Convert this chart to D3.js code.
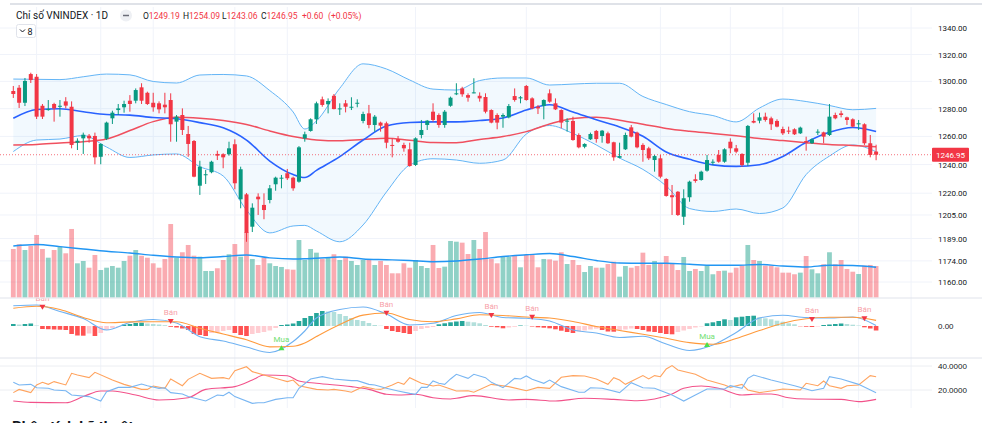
<!DOCTYPE html>
<html><head><meta charset="utf-8">
<script src="https://cdn.jsdelivr.net/npm/d3@7"></script>
<style>
body{margin:0;background:#fff;overflow:hidden}
svg{display:block;font-family:Roboto,"Noto Sans",sans-serif}
</style></head>
<body><svg id="c" width="982" height="423"></svg>
<script>
// ---------- DATA ----------
const ohlc = [ // [open, high, low, close]
[1292.9,1296.6,1287.8,1290.7],[1295.3,1297.3,1280.5,1284.3],[1284.3,1302.5,1281.9,1300.3],[1305.4,1306.4,1298.8,1301.0],[1303.4,1305.4,1272.5,1274.2],
[1282.1,1283.4,1272.5,1274.2],[1279.0,1286.3,1278.5,1279.7],[1283.4,1284.3,1270.6,1280.2],[1281.4,1286.3,1274.2,1282.1],[1285.3,1288.4,1280.2,1282.2],
[1281.4,1285.3,1251.5,1253.9],[1255.5,1258.6,1250.3,1256.9],[1258.6,1262.7,1247.5,1261.2],[1260.5,1261.7,1255.5,1258.6],[1260.3,1262.7,1240.2,1245.1],
[1245.5,1255.1,1240.2,1254.6],[1258.3,1270.6,1257.4,1269.9],[1273.0,1278.5,1268.9,1277.1],[1279.0,1283.4,1275.4,1280.2],[1281.0,1285.8,1277.1,1283.4],
[1285.8,1289.9,1277.8,1283.4],[1285.8,1294.8,1283.9,1293.6],[1295.6,1298.6,1283.4,1285.8],[1291.6,1292.4,1282.7,1283.4],[1284.3,1291.6,1277.8,1281.0],
[1283.9,1285.3,1276.6,1279.5],[1282.9,1291.6,1276.6,1281.0],[1286.3,1291.2,1256.2,1268.7],[1270.6,1275.4,1256.2,1274.2],[1275.4,1280.2,1261.0,1264.6],
[1261.7,1267.5,1245.5,1254.6],[1256.7,1257.4,1231.1,1231.5],[1225.2,1242.7,1218.8,1238.5],[1232.5,1236.2,1226.4,1233.2],[1234.6,1242.7,1233.9,1242.0],
[1247.5,1249.8,1243.2,1246.3],[1247.3,1248.0,1237.4,1245.1],[1247.3,1256.2,1246.3,1251.5],[1254.4,1257.9,1222.7,1226.9],[1215.8,1238.5,1209.6,1236.7],
[1219.2,1220.1,1186.8,1192.8],[1197.0,1213.0,1193.4,1210.0],[1217.6,1219.9,1205.0,1215.8],[1211.9,1219.9,1202.1,1208.4],[1215.3,1225.7,1213.0,1223.4],
[1226.2,1231.5,1221.7,1230.8],[1230.1,1232.7,1223.4,1230.8],[1233.9,1236.9,1229.2,1230.4],[1230.8,1231.5,1221.7,1223.4],[1228.0,1253.1,1227.3,1252.2],
[1258.6,1263.4,1256.2,1261.5],[1263.9,1273.0,1263.4,1272.3],[1272.3,1285.1,1268.9,1283.9],[1286.8,1288.8,1281.4,1282.7],[1283.2,1287.5,1276.6,1285.6],
[1289.4,1290.7,1279.5,1279.7],[1279.5,1283.9,1275.4,1280.2],[1283.9,1286.3,1277.3,1281.4],[1281.0,1288.3,1279.0,1281.4],[1283.9,1286.8,1281.0,1284.3],
[1271.1,1277.8,1269.4,1276.1],[1276.6,1282.7,1265.8,1268.2],[1268.2,1275.4,1263.4,1274.2],[1269.9,1270.6,1263.4,1267.7],[1269.4,1270.6,1251.5,1255.5],
[1253.9,1258.6,1245.1,1253.2],[1258.1,1260.3,1255.5,1256.2],[1253.9,1255.5,1249.1,1251.5],[1250.8,1255.5,1238.5,1239.0],[1239.7,1259.3,1239.0,1258.6],
[1261.0,1271.8,1258.6,1264.6],[1268.2,1271.8,1264.6,1271.3],[1277.8,1283.9,1270.6,1271.8],[1275.4,1276.6,1266.2,1268.2],[1268.2,1279.0,1266.2,1277.8],
[1282.1,1288.8,1281.4,1288.0],[1290.5,1298.6,1289.9,1291.2],[1294.8,1296.0,1288.7,1290.5],[1289.9,1291.2,1285.1,1288.0],[1291.2,1302.3,1291.2,1291.9],
[1289.4,1291.9,1285.1,1287.5],[1288.5,1291.2,1276.6,1277.8],[1279.0,1279.5,1269.4,1269.9],[1275.4,1276.6,1265.1,1269.9],[1274.2,1276.6,1266.2,1275.4],
[1273.7,1283.4,1273.0,1281.9],[1289.2,1294.8,1285.1,1286.3],[1287.5,1289.2,1283.9,1288.3],[1296.6,1297.3,1285.8,1286.3],[1287.5,1288.3,1279.5,1280.2],
[1281.4,1282.7,1276.1,1280.2],[1281.9,1286.8,1272.3,1286.3],[1291.2,1294.1,1284.3,1285.1],[1283.9,1287.5,1279.0,1279.5],[1279.0,1279.5,1265.8,1269.9],
[1270.6,1273.0,1263.4,1271.3],[1271.1,1274.2,1256.9,1257.4],[1261.0,1262.2,1251.5,1252.2],[1252.6,1255.1,1251.5,1254.6],[1257.9,1262.7,1257.4,1261.7],
[1263.9,1264.6,1255.5,1258.1],[1260.3,1264.6,1255.5,1264.1],[1262.2,1263.4,1254.6,1255.1],[1255.8,1256.2,1242.7,1245.1],[1244.8,1255.5,1244.4,1246.0],
[1250.8,1262.7,1250.3,1261.0],[1266.5,1268.2,1259.3,1259.8],[1262.7,1263.4,1251.5,1252.2],[1253.9,1255.1,1242.0,1250.3],[1251.5,1252.6,1243.2,1244.4],
[1243.2,1246.8,1235.0,1246.0],[1244.4,1246.8,1230.4,1231.5],[1229.9,1230.4,1217.6,1218.1],[1218.6,1225.7,1205.0,1217.2],[1221.0,1221.5,1204.3,1205.0],
[1203.8,1222.7,1198.2,1216.5],[1217.2,1228.7,1214.1,1228.0],[1229.7,1233.2,1227.3,1228.5],[1229.2,1235.7,1228.7,1235.0],[1235.7,1246.8,1235.0,1243.2],
[1241.3,1243.7,1239.7,1242.0],[1246.8,1250.3,1241.3,1242.0],[1242.0,1251.5,1241.3,1250.8],[1256.2,1258.6,1248.0,1251.5],[1251.5,1253.9,1248.0,1249.1],
[1247.5,1248.0,1238.5,1239.7],[1241.3,1268.2,1239.0,1267.5],[1271.1,1276.6,1269.4,1269.9],[1271.3,1277.1,1269.4,1273.7],[1274.2,1277.1,1270.6,1271.8],
[1273.0,1274.2,1264.6,1268.7],[1271.1,1272.3,1266.5,1267.0],[1265.3,1267.0,1261.0,1262.2],[1264.1,1267.0,1261.7,1263.4],[1265.1,1265.8,1261.0,1261.5],
[1262.2,1267.0,1261.7,1266.3],[1256.7,1259.8,1249.8,1255.5],[1255.1,1258.6,1254.6,1257.9],[1262.9,1265.1,1261.0,1263.4],[1262.9,1263.4,1255.1,1259.8],
[1261.0,1283.4,1260.3,1274.2],[1275.4,1277.1,1272.3,1273.0],[1276.6,1278.5,1273.7,1275.4],[1273.7,1274.2,1268.2,1271.8],[1272.3,1273.0,1266.5,1267.0],
[1268.7,1271.8,1264.6,1269.4],[1268.7,1269.4,1253.9,1255.1],[1255.1,1261.0,1245.1,1246.8],[1249.19,1254.09,1243.06,1246.95]
];
const volume = [604,663,591,641,779,604,495,591,633,550,
854,425,454,370,529,341,370,391,370,454,
520,591,520,495,425,370,479,916,495,563,
654,520,508,329,329,363,466,538,666,508,
816,479,404,495,425,391,379,350,345,716,
466,604,558,479,495,538,466,508,454,404,
466,466,404,454,404,300,300,425,370,466,
391,366,654,366,383,704,695,683,541,716,
604,816,479,425,508,508,516,375,529,529,
375,479,475,458,563,416,466,404,316,391,
370,370,416,445,258,391,370,391,558,404,
454,425,516,425,341,504,329,354,329,395,
288,329,333,308,370,395,654,466,454,395,
395,375,308,308,288,308,516,350,300,413,
563,413,466,354,320,291,395,404,391];

// indicator samples (bar index -> value)
const sampleIdx = [0,4,8,12,16,20,24,28,32,36,40,44,48,50,52,56,60,64,68,72,76,80,84,88,92,96,100,104,108,112,116,120,124,128,132,136,140,144,148];
const ma20 = [1273.0,1279.4,1279.9,1277.8,1275.8,1275.3,1273.6,1272.7,1269.9,1266.2,1257.4,1242.5,1233.0,1230.9,1235.9,1245.6,1257.4,1267.5,1270.0,1270.4,1270.4,1271.4,1273.2,1279.0,1282.8,1277.6,1271.9,1266.8,1260.1,1248.9,1243.7,1239.8,1238.7,1239.9,1245.7,1255.8,1263.0,1266.4,1263.5];
const ma50 = [1253.9,1254.2,1255.3,1256.2,1258.1,1264.2,1270.6,1273.7,1273.0,1271.4,1268.6,1263.9,1259.9,1258.5,1257.5,1256.9,1257.8,1258.6,1257.2,1255.6,1255.5,1257.8,1259.9,1263.4,1268.9,1272.9,1273.7,1271.6,1268.7,1265.7,1263.7,1262.1,1260.4,1258.5,1257.0,1255.5,1254.2,1253.5,1252.6];
const bbUpper = [1301.7,1301.5,1301.3,1303.4,1305.4,1304.8,1299.9,1298.8,1304.7,1305.1,1304.0,1293.2,1277.6,1265.3,1271.1,1294.9,1313.0,1309.2,1301.0,1294.3,1293.6,1300.6,1302.5,1302.5,1297.3,1298.0,1298.6,1298.6,1288.9,1283.0,1277.8,1275.0,1270.4,1280.5,1287.0,1285.2,1282.3,1279.2,1280.2];
const bbLower = [1249.2,1257.4,1258.1,1260.6,1252.4,1245.0,1246.8,1247.5,1238.5,1232.0,1208.4,1192.8,1197.5,1197.9,1194.1,1186.8,1198.2,1220.8,1239.7,1244.1,1243.2,1240.9,1243.2,1261.7,1267.8,1262.1,1253.9,1244.6,1236.6,1225.0,1209.4,1207.4,1209.1,1206.0,1209.8,1233.0,1246.0,1253.9,1249.1];
const volMA = [641,660,633,604,575,554,525,504,495,510,529,493,479,482,488,504,479,470,460,445,454,479,510,531,548,510,460,429,425,425,413,400,400,410,391,379,400,398,375];
const macdLine = [20.2,21,14.5,7.5,-4,3.5,6.5,3,-10.7,-15,-21,-26.5,-15.5,-5,8,16.5,19,12,1,2.7,10.5,13.5,8.5,7.7,5,-4,-7,-11.5,-10.3,-18,-24.5,-19,-6.5,8,10.7,8.5,8,9,0.5];
const signalLine = [17.7,19.7,16.5,8.5,3.2,4.1,4.3,4.3,-2.3,-8,-13.7,-20.9,-20.3,-17,-10.6,1.4,10.9,13,6.5,4.3,7.1,11.2,10.5,9,8,4.5,-0.5,-4.5,-8.3,-12.3,-16.6,-18.3,-12.5,-4.6,2.8,7.2,8.7,8.7,5.6];
const macdHist = [2,1.5,2,2.5,0.5,-3,-3.2,-3.5,-3.7,-4,
-8,-9.5,-9.7,-7.5,-10,-7,-4,-2,-0.5,1.5,
2,3,3.3,2.5,2,1.5,0.8,-0.8,-1.5,-2.5,
-4,-8,-9,-10,-7,-6,-5,-4,-7,-9,
-10,-8,-7,-6,-4.5,-2,1,1.5,2.5,5,
8,10,13,15,14.5,14,12,10,8,6,
5,3,1,0.3,-3,-5,-6,-7,-8,-5,
-3,-2,-1,1.7,2.7,3.7,4.5,5,4.3,3.7,
2.7,1,-0.7,-1.3,-2.3,-1.5,-0.8,0.5,0.3,-0.5,
-1.3,-1.7,-2.3,-3.3,-4.7,-6,-7,-5.5,-4.5,-3.5,
-2.7,-4,-5.5,-5.7,-4.5,-3.5,-2.5,-3,-4,-5.5,
-6,-7,-8,-8.3,-6,-4.5,-3,-1.5,-0.5,2.7,
3.7,5,6.7,6,8.7,9.3,10,10.3,8.7,7.7,
6.7,5.3,4.3,2.7,1.7,-0.3,-0.7,-1,-0.5,1,
1.5,2,2.5,2,1.3,0.5,-1.3,-2.5,-4.5];
const sellIdx = [5,27,64,82,89,137,146];
const sellVal = [19.3,5,13.3,11,9.3,7,7.7];
const buyIdx = [46,119];
const buyVal = [-22.3,-19];

const dmiBlueIdx = [0,1,3,4,6,7,9,10,13,15,16,18,20,22,23,25,26,27,29,30,33,35,36,37,38,41,42,43,45,47,48,49,51,53,55,58,59,61,62,64,66,68,69,70,71,72,73,74,75,76,78,79,81,82,84,86,87,88,89,91,92,94,97,98,99,101,104,106,108,110,113,115,117,119,122,123,125,126,127,130,134,136,137,139,140,142,145,148];
const dmiBlue = [26.4,24.2,24.7,21.9,21.4,20.0,19.4,15.8,14.5,10.8,18.6,22.2,22.2,25.0,23.6,21.4,21.9,17.8,16.7,14.5,10.8,15.8,15.3,18.1,14.5,8.9,9.4,9.4,12.2,13.6,13.6,21.4,29.2,31.1,29.2,27.8,27.8,24.7,24.2,21.4,19.2,17.2,16.4,22.2,22.2,27.5,25.6,24.7,29.2,33.1,29.7,33.1,30.3,26.4,21.9,29.7,29.2,31.7,28.9,25.6,28.3,22.8,18.1,18.1,21.9,21.4,17.8,26.1,21.9,21.4,15.8,10.8,15.8,20.8,20.8,23.6,21.4,29.7,32.5,28.3,23.6,20.8,19.4,21.4,31.1,29.2,24.7,17.8];
const dmiOrangeIdx = [0,1,3,4,5,6,7,9,10,11,13,14,17,19,22,23,24,26,27,29,30,32,34,36,37,38,40,41,43,46,47,48,49,52,54,55,57,58,60,62,63,65,66,67,68,70,72,73,75,76,78,79,82,85,88,90,92,94,96,98,100,102,103,104,105,108,109,110,111,112,113,114,117,119,122,123,125,126,128,130,132,135,136,138,139,140,142,143,145,147,148];
const dmiOrange = [17.8,20.5,17.8,24.2,26.4,24.7,27.0,24.2,33.9,32.5,30.3,34.7,28.3,24.7,20.5,20.5,23.3,21.4,29.2,23.6,28.9,33.9,29.7,30.3,29.2,36.1,39.4,35.3,32.5,28.3,27.0,28.3,23.6,20.5,20.0,20.5,19.2,18.1,22.8,20.8,20.5,24.2,26.4,24.7,30.3,25.6,23.3,24.2,20.8,19.2,19.4,18.1,24.7,22.8,19.4,22.2,21.4,30.6,32.0,31.7,29.2,24.7,30.3,28.3,24.7,32.0,29.2,32.0,31.1,37.5,40.3,36.7,33.1,28.3,24.2,22.2,24.7,20.0,17.8,19.2,20.8,20.0,25.6,23.6,27.5,23.6,21.4,23.6,24.2,32.0,31.1];
const dmiPinkIdx = [0,3,9,12,15,17,21,25,30,33,38,41,43,47,49,52,58,61,64,66,69,72,75,76,79,85,88,93,98,103,107,110,113,115,118,121,125,127,130,133,136,142,145,148];
const dmiPink = [10.8,9.7,9.4,14.5,19.2,19.2,15.8,11.7,13.6,20.5,22.8,28.3,32.5,31.9,27.5,25.6,22.8,20.5,16.4,15.8,16.4,13.6,12.5,13.1,15.3,11.7,12.2,10.8,13.1,12.2,11.1,12.5,16.7,21.4,23.3,21.4,15.8,16.4,16.7,13.6,12.5,12.2,10.3,12.2];

const priceTicks = [1340,1320,1300,1280,1260,1240,1220,1205,1189,1174,1160];
const macdTicks = [0];
const dmiTicks = [40,20];
const gridIdx = [4,15,24,38,47,69,88,111,123,132,145,154];
const lastPrice = 1246.95;

// ---------- CHART ----------
const svg = d3.select('#c');
const AX = 932;
const x = d3.scaleLinear().domain([0,148]).range([13.3,876.1]);
const y = d3.scaleLog().domain([1160,1340]).range([282,28]);
const yV = d3.scaleLinear().domain([0,1000]).range([297.3,217.3]);
const yM = d3.scaleLinear().domain([-30,30]).range([356,296]);
const yD = d3.scaleLinear().domain([0,40]).range([414,366]);
const UP = '#089981', DN = '#f23645', GRID = '#f0f3fa';

svg.append('rect').attr('width',982).attr('height',423).attr('fill','#fff');
svg.append('line').attr('x1',10).attr('x2',982).attr('y1',4).attr('y2',4).attr('stroke','#dfe2e8').attr('stroke-width',2);

// grids
const g = svg.append('g');
g.selectAll('.vg').data(gridIdx).join('line').attr('x1',d=>x(d)).attr('x2',d=>x(d)).attr('y1',7).attr('y2',408).attr('stroke',GRID);
g.selectAll('.hg').data(priceTicks).join('line').attr('x1',0).attr('x2',AX).attr('y1',d=>y(d)).attr('y2',d=>y(d)).attr('stroke',GRID);
g.selectAll('.dg').data(dmiTicks).join('line').attr('x1',0).attr('x2',AX).attr('y1',d=>yD(d)).attr('y2',d=>yD(d)).attr('stroke','#eceef2');
[298,358].forEach(v=>g.append('line').attr('x1',0).attr('x2',982).attr('y1',v).attr('y2',v).attr('stroke','#e0e3eb'));

// volume
svg.append('g').selectAll('rect').data(volume).join('rect')
  .attr('x',(d,i)=>x(i)-2.4).attr('width',4.8)
  .attr('y',d=>yV(d)).attr('height',d=>yV(0)-yV(d))
  .attr('fill',(d,i)=>ohlc[i][3]>=ohlc[i][0]?'rgba(8,153,129,0.45)':'rgba(242,54,69,0.42)');
svg.append('path').datum(volMA).attr('fill','none').attr('stroke','#2196f3').attr('stroke-width',1.4)
  .attr('d',d3.line().x((d,i)=>x(sampleIdx[i])).y(d=>yV(d)).curve(d3.curveMonotoneX));

// bollinger
const bbData = sampleIdx.map((s,i)=>({s,u:bbUpper[i],l:bbLower[i]}));
svg.append('path').datum(bbData).attr('fill','rgba(33,150,243,0.06)')
  .attr('d',d3.area().x(d=>x(d.s)).y0(d=>y(d.l)).y1(d=>y(d.u)).curve(d3.curveMonotoneX));
const lineP = d3.line().x((d,i)=>x(sampleIdx[i])).y(d=>y(d)).curve(d3.curveMonotoneX);
svg.append('path').datum(bbUpper).attr('fill','none').attr('stroke','#64b5f6').attr('stroke-width',1).attr('d',lineP);
svg.append('path').datum(bbLower).attr('fill','none').attr('stroke','#64b5f6').attr('stroke-width',1).attr('d',lineP);
svg.append('path').datum(ma50).attr('fill','none').attr('stroke','#f0505f').attr('stroke-width',1.5).attr('d',lineP);
svg.append('path').datum(ma20).attr('fill','none').attr('stroke','#2962ff').attr('stroke-width',1.6).attr('d',lineP);

// current price line
svg.append('line').attr('x1',0).attr('x2',AX).attr('y1',y(lastPrice)).attr('y2',y(lastPrice))
  .attr('stroke',DN).attr('stroke-dasharray','1,2').attr('stroke-opacity',0.7);

// candles
const cg = svg.append('g').selectAll('g').data(ohlc).join('g');
cg.append('line').attr('x1',(d,i)=>x(i)).attr('x2',(d,i)=>x(i)).attr('y1',d=>y(d[1])).attr('y2',d=>y(d[2]))
  .attr('stroke',d=>d[3]>=d[0]?UP:DN).attr('stroke-width',1);
cg.append('rect').attr('x',(d,i)=>x(i)-2).attr('width',4)
  .attr('y',d=>y(Math.max(d[0],d[3])))
  .attr('height',d=>Math.max(1,Math.abs(y(d[0])-y(d[3]))))
  .attr('fill',d=>d[3]>=d[0]?UP:DN);

// price axis
const ax = svg.append('g').attr('transform',`translate(${AX},0)`)
  .call(d3.axisRight(y).tickValues(priceTicks).tickFormat(d3.format('.2f')).tickSize(0).tickPadding(6));
ax.select('.domain').remove();
ax.selectAll('text').attr('fill','#131722').attr('font-size',8).attr('font-family','Roboto,"Noto Sans",sans-serif');
// last price label
svg.append('rect').attr('x',AX).attr('y',y(lastPrice)-7).attr('width',37).attr('height',14).attr('fill',DN).attr('rx',1);
svg.append('text').attr('x',AX+18.5).attr('y',y(lastPrice)+3).attr('text-anchor','middle').attr('fill','#fff').attr('font-size',8).text(d3.format('.2f')(lastPrice));

// MACD pane
svg.append('clipPath').attr('id','mc').append('rect').attr('x',0).attr('y',298.5).attr('width',AX).attr('height',59);
const mg = svg.append('g').attr('clip-path','url(#mc)');
mg.selectAll('rect').data(macdHist).join('rect')
  .attr('x',(d,i)=>x(i)-2.3).attr('width',4.6)
  .attr('y',d=>Math.min(yM(d),yM(0))).attr('height',d=>Math.abs(yM(d)-yM(0)))
  .attr('fill',(d,i)=>{const p=i?macdHist[i-1]:d; return d>=0?(d>=p?'#26a69a':'#b2dfdb'):(d<p?'#ff5252':'#ffcdd2');});
const lineM = d3.line().x((d,i)=>x(sampleIdx[i])).y(d=>yM(d)).curve(d3.curveMonotoneX);
mg.append('path').datum(macdLine).attr('fill','none').attr('stroke','#6fb2f2').attr('stroke-width',1.1).attr('d',lineM);
mg.append('path').datum(signalLine).attr('fill','none').attr('stroke','#ff9a3c').attr('stroke-width',1.1).attr('d',lineM);
sellIdx.forEach((s,k)=>{
  const cx=x(s), cy=yM(sellVal[k]);
  mg.append('path').attr('d',`M${cx-3},${cy-2}L${cx+3},${cy-2}L${cx},${cy+3}Z`).attr('fill',DN);
  mg.append('text').attr('x',cx).attr('y',cy-6).attr('text-anchor','middle').attr('font-size',8).attr('fill','#f7a1a9').text('Bán');
});
buyIdx.forEach((s,k)=>{
  const cx=x(s), cy=yM(buyVal[k]);
  mg.append('path').attr('d',`M${cx-3},${cy+2}L${cx+3},${cy+2}L${cx},${cy-3}Z`).attr('fill','#4be04b');
  mg.append('text').attr('x',cx).attr('y',cy-6).attr('text-anchor','middle').attr('font-size',8).attr('fill','#72e072').text('Mua');
});
const axm = svg.append('g').attr('transform',`translate(${AX},0)`)
  .call(d3.axisRight(yM).tickValues(macdTicks).tickFormat(d3.format('.2f')).tickSize(0).tickPadding(6));
axm.select('.domain').remove();
axm.selectAll('text').attr('fill','#131722').attr('font-size',8);

// DMI pane
const lineD = (idx)=>d3.line().x((d,i)=>x(idx[i])).y(d=>yD(d));
svg.append('path').datum(dmiPink).attr('fill','none').attr('stroke','#f2528a').attr('stroke-width',1.1)
  .attr('d',lineD(dmiPinkIdx).curve(d3.curveMonotoneX));
svg.append('path').datum(dmiOrange).attr('fill','none').attr('stroke','#ffa35e').attr('stroke-width',1.1).attr('d',lineD(dmiOrangeIdx));
svg.append('path').datum(dmiBlue).attr('fill','none').attr('stroke','#79b6f2').attr('stroke-width',1.1).attr('d',lineD(dmiBlueIdx));
const axd = svg.append('g').attr('transform',`translate(${AX},0)`)
  .call(d3.axisRight(yD).tickValues(dmiTicks).tickFormat(d3.format('.4f')).tickSize(0).tickPadding(6));
axd.select('.domain').remove();
axd.selectAll('text').attr('fill','#131722').attr('font-size',8);

// header
svg.append('text').attr('x',16).attr('y',19).attr('font-size',10).attr('fill','#131722').text('Chỉ số VNINDEX · 1D');
svg.append('circle').attr('cx',126).attr('cy',15.5).attr('r',6).attr('fill','#eef0f4');
svg.append('line').attr('x1',123).attr('x2',129).attr('y1',15.5).attr('y2',15.5).attr('stroke','#6a6d78').attr('stroke-width',1.5);
const hd = svg.append('text').attr('y',19).attr('font-size',8.5);
[['O',143,'1249.19'],['H',183,'1254.09'],['L',222,'1243.06'],['C',261,'1246.95']].forEach(([k,px,v])=>{
  hd.append('tspan').attr('x',px).attr('fill','#131722').text(k);
  hd.append('tspan').attr('fill',DN).text(v);
});
hd.append('tspan').attr('x',302).attr('fill',DN).text('+0.60');
hd.append('tspan').attr('x',328).attr('fill',DN).text('(+0.05%)');
svg.append('rect').attr('x',16.5).attr('y',24.5).attr('width',19).attr('height',13).attr('rx',2).attr('fill','#fff').attr('stroke','#e0e3eb');
svg.append('path').attr('d','M20,29.5L22.5,32L25,29.5').attr('fill','none').attr('stroke','#131722').attr('stroke-width',1);
svg.append('text').attr('x',27.5).attr('y',34.5).attr('font-size',9).attr('fill','#131722').text('8');

// bottom title (partly below the visible area, as in the reference)
svg.append('text').attr('x',12).attr('y',432).attr('font-size',15).attr('font-weight','bold').attr('fill','#131722').text('Phân tích kỹ thuật');
</script>
</body></html>
